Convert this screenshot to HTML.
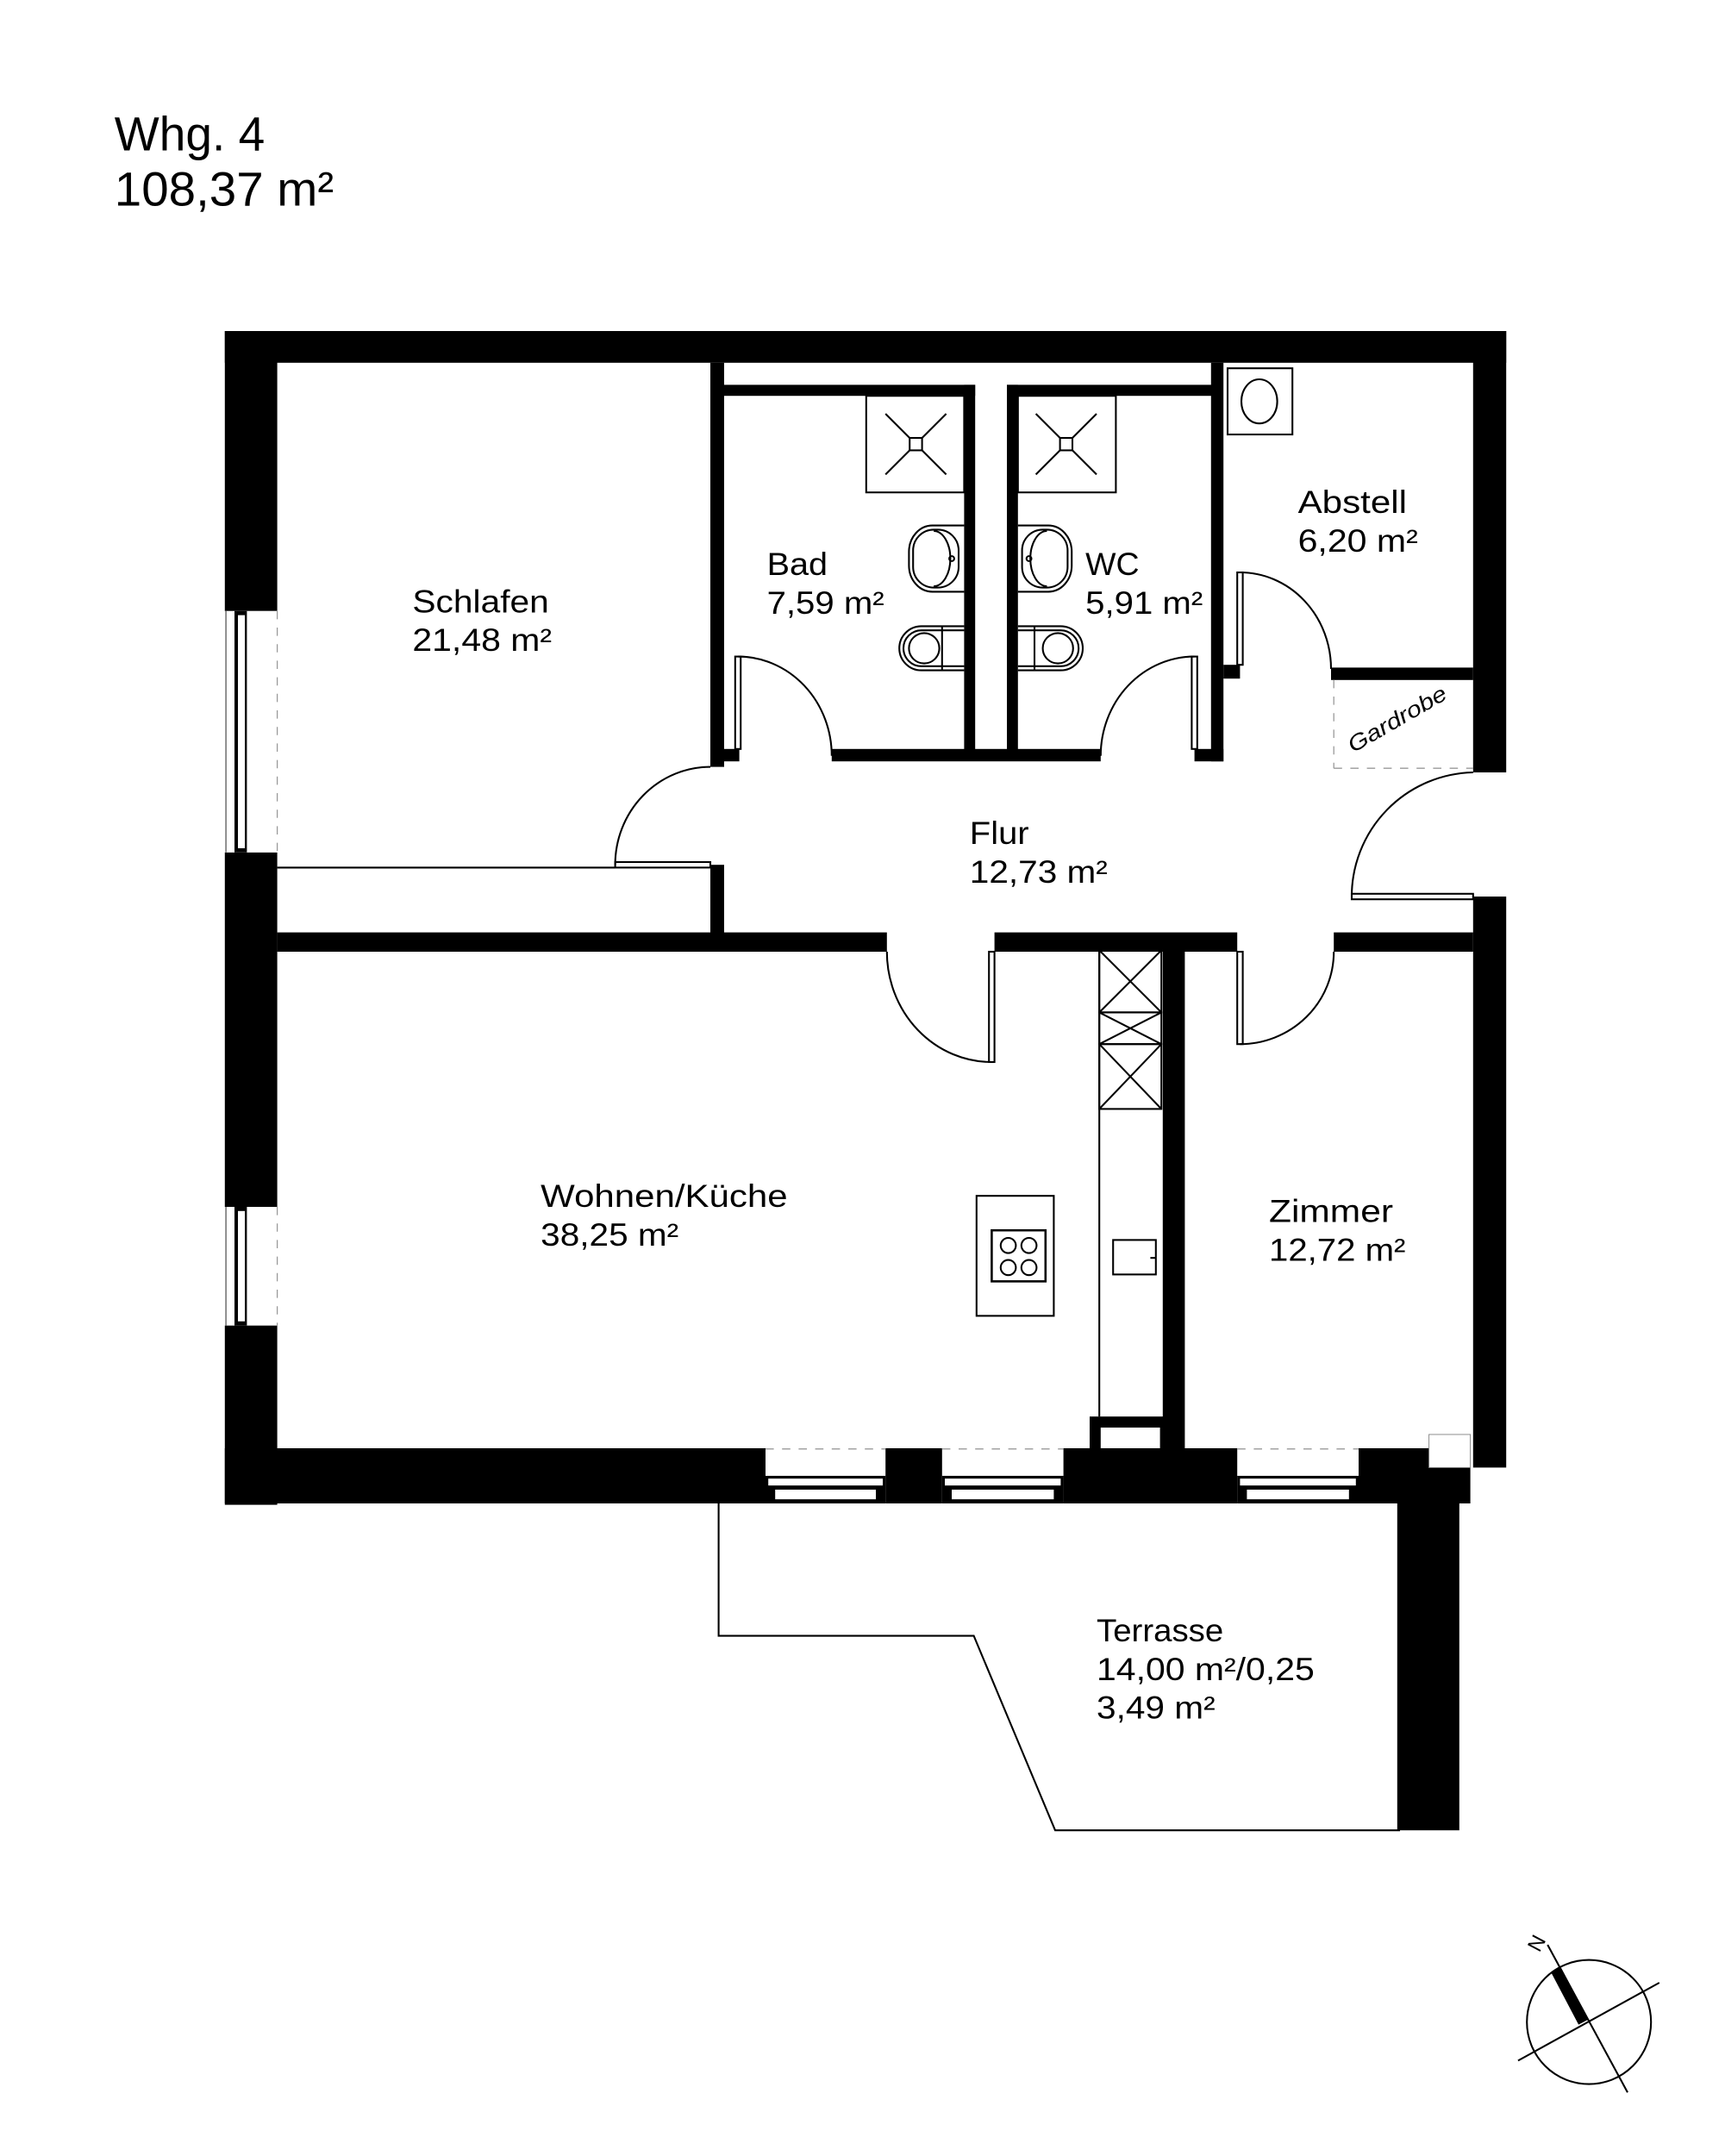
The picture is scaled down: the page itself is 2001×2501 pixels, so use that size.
<!DOCTYPE html>
<html><head><meta charset="utf-8"><style>
html,body{margin:0;padding:0;background:#fff;}
svg{display:block;}
text{font-family:"Liberation Sans",sans-serif;fill:#000;}
</style></head><body>
<svg width="2001" height="2501" viewBox="0 0 1250.625 1563.125" preserveAspectRatio="none" xmlns="http://www.w3.org/2000/svg">
<rect x="0" y="0" width="1251" height="1564" fill="#fff"/>
<!-- title -->
<text x="83" y="109" font-size="35" textLength="109" lengthAdjust="spacingAndGlyphs">Whg. 4</text>
<text x="83" y="149" font-size="35" textLength="159" lengthAdjust="spacingAndGlyphs">108,37 m²</text>

<!-- terrace outline -->
<polyline points="521,1090 521,1186 706,1186 765,1327 1015,1327" fill="none" stroke="#000" stroke-width="1.3"/>

<g fill="#000">
<!-- outer walls -->
<rect x="163" y="240" width="929" height="23"/>
<rect x="163" y="240" width="38" height="203"/>
<rect x="163" y="618" width="38" height="257"/>
<rect x="163" y="961" width="38" height="130"/>
<rect x="1068" y="240" width="24" height="320"/>
<rect x="1068" y="650" width="24" height="414"/>
<rect x="163" y="1050" width="392" height="40"/>
<rect x="642" y="1050" width="41" height="40"/>
<rect x="771" y="1050" width="126" height="40"/>
<rect x="985" y="1050" width="51" height="40"/>
<rect x="1036" y="1064" width="30" height="26"/>
<rect x="1036" y="1050" width="20" height="14"/>
<rect x="1013" y="1050" width="45" height="277"/>
<!-- shaft -->
<rect x="790" y="1027" width="68" height="23"/>
<rect x="843" y="689" width="16" height="361"/>
<!-- interior walls -->
<rect x="201" y="676" width="442" height="14"/>
<rect x="721" y="676" width="176" height="14"/>
<rect x="967" y="676" width="101" height="14"/>
<rect x="515" y="263" width="10" height="293"/>
<rect x="515" y="627" width="10" height="50"/>
<rect x="525" y="279" width="182" height="8"/>
<rect x="730" y="279" width="155" height="8"/>
<rect x="699" y="279" width="8" height="270"/>
<rect x="730" y="279" width="8" height="270"/>
<rect x="603" y="543" width="195" height="9"/>
<rect x="525" y="543" width="11" height="9"/>
<rect x="866" y="543" width="21" height="9"/>
<rect x="878" y="263" width="9" height="289"/>
<rect x="887" y="482" width="12" height="10"/>
<rect x="965" y="484" width="103" height="9"/>
</g>
<rect x="798" y="1035" width="43" height="15" fill="#fff"/>
<!-- hatched corner -->
<rect x="1036" y="1040" width="30" height="24" fill="#fff" stroke="#888" stroke-width="0.6"/>

<!-- windows left -->
<g>
<rect x="163" y="443" width="38" height="175" fill="#fff"/>
<rect x="170" y="443" width="9" height="175" fill="#000"/>
<rect x="172.5" y="446" width="5" height="169" fill="#fff"/>
<line x1="163.8" y1="443" x2="163.8" y2="618" stroke="#555" stroke-width="0.8"/>
<line x1="201" y1="443" x2="201" y2="618" stroke="#999" stroke-width="0.8" stroke-dasharray="6,6"/>
<rect x="163" y="875" width="38" height="86" fill="#fff"/>
<rect x="170" y="875" width="9" height="86" fill="#000"/>
<rect x="172.5" y="878" width="5" height="80" fill="#fff"/>
<line x1="163.8" y1="875" x2="163.8" y2="961" stroke="#555" stroke-width="0.8"/>
<line x1="201" y1="875" x2="201" y2="961" stroke="#999" stroke-width="0.8" stroke-dasharray="6,6"/>
</g>
<!-- windows bottom -->
<g>
<rect x="555" y="1070" width="87" height="20" fill="#000"/>
<rect x="557" y="1072" width="83" height="5" fill="#fff"/>
<rect x="562" y="1080" width="73" height="7" fill="#fff"/>
<rect x="683" y="1070" width="88" height="20" fill="#000"/>
<rect x="685" y="1072" width="84" height="5" fill="#fff"/>
<rect x="690" y="1080" width="74" height="7" fill="#fff"/>
<rect x="897" y="1070" width="88" height="20" fill="#000"/>
<rect x="899" y="1072" width="84" height="5" fill="#fff"/>
<rect x="904" y="1080" width="74" height="7" fill="#fff"/>
<g stroke="#999" stroke-width="0.8" stroke-dasharray="6,6">
<line x1="555" y1="1050.5" x2="642" y2="1050.5"/>
<line x1="683" y1="1050.5" x2="771" y2="1050.5"/>
<line x1="897" y1="1050.5" x2="985" y2="1050.5"/>
<line x1="967" y1="493" x2="967" y2="557"/>
<line x1="967" y1="557" x2="1068" y2="557"/>
</g>
</g>

<g fill="none" stroke="#000" stroke-width="1.3">
<!-- closet line -->
<line x1="201" y1="629" x2="446" y2="629"/>
<!-- doors -->
<rect x="533" y="476" width="4" height="67" fill="#fff"/>
<path d="M535 476 A68 72 0 0 1 603 548"/>
<rect x="864" y="476" width="4" height="67" fill="#fff"/>
<path d="M866 476 A68 72 0 0 0 798 548"/>
<rect x="446" y="625" width="69" height="4" fill="#fff"/>
<path d="M446 627 A69 71 0 0 1 515 556"/>
<rect x="980" y="648" width="88" height="4" fill="#fff"/>
<path d="M980 650 A90 90 0 0 1 1068 560"/>
<rect x="717" y="690" width="4" height="80" fill="#fff"/>
<path d="M643 690 A76 80 0 0 0 719 770"/>
<rect x="897" y="690" width="4" height="67" fill="#fff"/>
<path d="M967 690 A68 67 0 0 1 899 757"/>
<rect x="897" y="415" width="4" height="67" fill="#fff"/>
<path d="M899 415 A66 70 0 0 1 965 485"/>

<!-- kitchen -->
<line x1="797" y1="689" x2="797" y2="1027"/>
<rect x="797" y="689" width="45" height="45"/>
<rect x="797" y="734" width="45" height="23"/>
<rect x="797" y="757" width="45" height="47"/>
<path d="M797 689 L842 734 M842 689 L797 734 M797 734 L842 757 M842 734 L797 757 M797 757 L842 804 M842 757 L797 804"/>
<rect x="807" y="899" width="31" height="25"/>
<line x1="834" y1="912" x2="838" y2="912"/>
<rect x="708" y="867" width="56" height="87"/>
<rect x="719" y="892" width="39" height="37" stroke-width="1.6"/>
<circle cx="731" cy="903" r="5.5"/><circle cx="746" cy="903" r="5.5"/>
<circle cx="731" cy="919" r="5.5"/><circle cx="746" cy="919" r="5.5"/>

<!-- showers -->
<rect x="628" y="287" width="71" height="70"/>
<rect x="659.5" y="317.5" width="9" height="9"/>
<path d="M659.5 317.5 L642 300 M668.5 317.5 L686 300 M659.5 326.5 L642 344 M668.5 326.5 L686 344"/>
<rect x="738" y="287" width="71" height="70"/>
<rect x="768.5" y="317.5" width="9" height="9"/>
<path d="M768.5 317.5 L751 300 M777.5 317.5 L795 300 M768.5 326.5 L751 344 M777.5 326.5 L795 344"/>
<!-- basins -->
<path d="M699 381 L676 381 A17 19 0 0 0 659 400 L659 410 A17 19 0 0 0 676 429 L699 429"/>
<rect x="662" y="384" width="33" height="42" rx="15" ry="15"/>
<path d="M677 385 A12 20 0 0 1 677 425"/>
<circle cx="690" cy="405" r="1.8"/>
<path d="M738 381 L760 381 A17 19 0 0 1 777 400 L777 410 A17 19 0 0 1 760 429 L738 429"/>
<rect x="741" y="384" width="33" height="42" rx="15" ry="15"/>
<path d="M759 385 A12 20 0 0 0 759 425"/>
<circle cx="746" cy="405" r="1.8"/>
<!-- toilets -->
<path d="M699 454 L668 454 A16 16 0 0 0 668 486 L699 486"/>
<path d="M699 457 L668 457 A13 13 0 0 0 668 483 L699 483"/>
<circle cx="670" cy="470" r="11"/>
<line x1="683" y1="454" x2="683" y2="486"/>
<path d="M738 454 L769 454 A16 16 0 0 1 769 486 L738 486"/>
<path d="M738 457 L769 457 A13 13 0 0 1 769 483 L738 483"/>
<circle cx="767" cy="470" r="11"/>
<line x1="750" y1="454" x2="750" y2="486"/>
<!-- washing machine -->
<rect x="890" y="267" width="47" height="48"/>
<ellipse cx="913" cy="291" rx="13" ry="16"/>

<!-- compass -->
<circle cx="1152" cy="1466" r="45"/>
<line x1="1122" y1="1410" x2="1180" y2="1517"/>
<line x1="1100.6" y1="1494" x2="1203" y2="1437.5"/>
</g>
<line x1="1128" y1="1428" x2="1148" y2="1466" stroke="#000" stroke-width="8"/>
<text x="0" y="0" font-size="15" transform="translate(1116,1416) rotate(-62)">N</text>

<!-- labels -->
<g font-size="23">
<text x="299" y="444" textLength="99" lengthAdjust="spacingAndGlyphs">Schlafen</text>
<text x="299" y="472" textLength="101" lengthAdjust="spacingAndGlyphs">21,48 m²</text>
<text x="556" y="417" textLength="44" lengthAdjust="spacingAndGlyphs">Bad</text>
<text x="556" y="445" textLength="85" lengthAdjust="spacingAndGlyphs">7,59 m²</text>
<text x="787" y="417" textLength="39" lengthAdjust="spacingAndGlyphs">WC</text>
<text x="787" y="445" textLength="85" lengthAdjust="spacingAndGlyphs">5,91 m²</text>
<text x="941" y="372" textLength="79" lengthAdjust="spacingAndGlyphs">Abstell</text>
<text x="941" y="400" textLength="87" lengthAdjust="spacingAndGlyphs">6,20 m²</text>
<text x="703" y="612" textLength="43" lengthAdjust="spacingAndGlyphs">Flur</text>
<text x="703" y="640" textLength="100" lengthAdjust="spacingAndGlyphs">12,73 m²</text>
<text x="392" y="875" textLength="179" lengthAdjust="spacingAndGlyphs">Wohnen/Küche</text>
<text x="392" y="903" textLength="100" lengthAdjust="spacingAndGlyphs">38,25 m²</text>
<text x="920" y="886" textLength="90" lengthAdjust="spacingAndGlyphs">Zimmer</text>
<text x="920" y="914" textLength="99" lengthAdjust="spacingAndGlyphs">12,72 m²</text>
<text x="795" y="1190" textLength="92" lengthAdjust="spacingAndGlyphs">Terrasse</text>
<text x="795" y="1218" textLength="158" lengthAdjust="spacingAndGlyphs">14,00 m²/0,25</text>
<text x="795" y="1246" textLength="86" lengthAdjust="spacingAndGlyphs">3,49 m²</text>
</g>
<text x="0" y="0" font-size="16" font-style="italic" textLength="80" lengthAdjust="spacingAndGlyphs" transform="translate(981,546) rotate(-30)">Gardrobe</text>
</svg>
</body></html>
